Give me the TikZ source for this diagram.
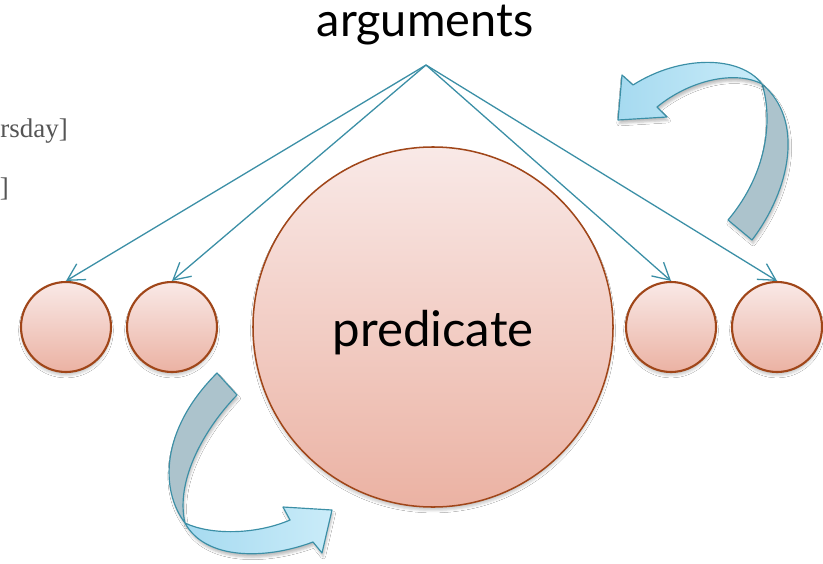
\documentclass[tikz,border=0pt]{standalone}
\usepackage{fontspec}
\setmainfont{Lato}
\newfontfamily\slidefont{Liberation Serif}
\usetikzlibrary{arrows.meta,shadows.blur}

\definecolor{linkteal}{RGB}{59,143,166}
\definecolor{ringbrown}{RGB}{160,70,25}
\definecolor{discTop}{RGB}{249,233,231}
\definecolor{discBottom}{RGB}{235,178,163}
\definecolor{bandBlueA}{RGB}{166,218,240}
\definecolor{bandBlueB}{RGB}{202,236,249}
\definecolor{bandGray}{RGB}{172,195,204}
\definecolor{oldgray}{RGB}{85,85,85}

\tikzset{
  disc/.style={circle, draw=ringbrown, line width=1.3pt, top color=discTop,
    bottom color=discBottom, inner sep=0pt,
    blur shadow={shadow xshift=0pt, shadow yshift=-3pt, shadow opacity=20, shadow blur radius=2pt}},
  argdisc/.style={disc, line width=1.8pt, minimum size=2.7cm},
  link/.style={linkteal, line width=1.1pt, -{Straight Barb[length=5mm,width=5.5mm]}},
  band/.style={draw=linkteal, line width=1pt, line join=round,
    blur shadow={shadow xshift=1pt, shadow yshift=-3pt, shadow opacity=25, shadow blur radius=2pt}},
  bandfront/.style={band, left color=bandBlueA, right color=bandBlueB},
  bandback/.style={band, fill=bandGray},
  oldtext/.style={font=\slidefont\fontsize{23}{27}\selectfont, text=oldgray, inner sep=0pt},
}

\begin{document}
\begin{tikzpicture}[x=0.03cm, y=-0.03cm]
  % canvas
  \useasboundingbox (0,0) rectangle (823,563);
  \fill[white] (0,0) rectangle (823,563);

  % leftover words from the previous slide
  \node[oldtext, anchor=base east] (day) at (68,137) {rsday]};
  \node[oldtext, anchor=base east] (close) at (9,196) {]};

  % head word and the point the links leave from
  \node[font=\fontsize{40}{48}\selectfont, anchor=base, inner sep=0pt] (args) at (425,37) {arguments};
  \coordinate (hub) at (426,65);

  % predicate and its argument slots
  \node[disc, minimum size=10.8cm, font=\fontsize{42}{50}\selectfont,
        text height=42pt, text depth=8pt] (pred) at (433,327) {predicate};
  \foreach \name/\x in {a1/66, a2/172, a3/671, a4/777}
    \node[argdisc] (\name) at (\x,327) {};

  \foreach \name in {a1,a2,a3,a4}
    \draw[link] (hub) -- (\name.north);

  % bent arrow, lower left
  \draw[bandback] (217,373) -- (237,395) .. controls (205,428) and (175,480) .. (185,523)
    .. controls (160,490) and (160,430) .. (217,373) -- cycle;
  \draw[bandfront] (185,523) .. controls (205,560) and (265,560) .. (313,542)
    -- (322,553) -- (332,510) -- (283,507) -- (290,520)
    .. controls (255,535) and (210,535) .. (185,523) -- cycle;

  % bent arrow, upper right
  \draw[bandback] (728,220) -- (752,240) .. controls (790,190) and (805,120) .. (762,84)
    .. controls (772,115) and (770,170) .. (728,220) -- cycle;
  \draw[bandfront] (762,84) .. controls (740,55) and (680,55) .. (633,85)
    -- (622,75) -- (618,120) -- (667,117) -- (657,107)
    .. controls (690,80) and (735,70) .. (762,84) -- cycle;
\end{tikzpicture}
\end{document}
